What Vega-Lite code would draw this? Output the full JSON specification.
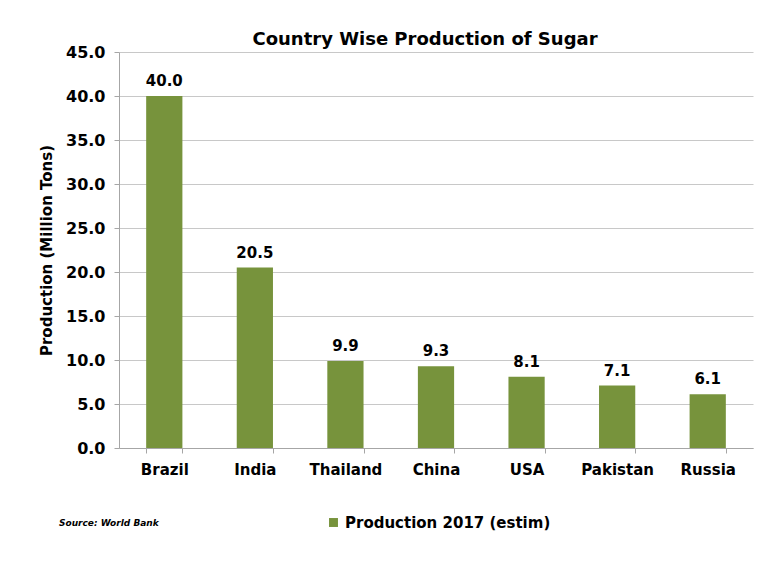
{
  "$schema": "https://vega.github.io/schema/vega-lite/v6.json",
  "autosize": "none",
  "width": 634,
  "height": 396,
  "padding": {"left": 119, "top": 52, "right": 23, "bottom": 116},
  "background": "white",
  "title": {
    "text": "Country Wise Production of Sugar",
    "font": "DejaVu Sans",
    "fontSize": 18,
    "fontWeight": "bold",
    "color": "#000000",
    "anchor": "middle",
    "dx": -11,
    "offset": -5
  },
  "data": {
    "values": [
      {"country": "Brazil", "production": 40.0, "series": "Production 2017 (estim)"},
      {"country": "India", "production": 20.5, "series": "Production 2017 (estim)"},
      {"country": "Thailand", "production": 9.9, "series": "Production 2017 (estim)"},
      {"country": "China", "production": 9.3, "series": "Production 2017 (estim)"},
      {"country": "USA", "production": 8.1, "series": "Production 2017 (estim)"},
      {"country": "Pakistan", "production": 7.1, "series": "Production 2017 (estim)"},
      {"country": "Russia", "production": 6.1, "series": "Production 2017 (estim)"}
    ]
  },
  "encoding": {
    "x": {
      "field": "country",
      "type": "nominal",
      "sort": null,
      "scale": {"paddingInner": 0.6, "paddingOuter": 0.3},
      "axis": {
        "title": null,
        "labelAngle": 0,
        "labelFont": "DejaVu Sans",
        "labelFontSize": 15,
        "labelFontWeight": "bold",
        "labelColor": "#000000",
        "labelPadding": 9,
        "tickBand": "extent",
        "tickSize": 5,
        "tickColor": "#a6a6a6",
        "domainColor": "#a6a6a6",
        "grid": false
      }
    },
    "y": {
      "field": "production",
      "type": "quantitative",
      "scale": {"domain": [0, 45]},
      "axis": {
        "title": "Production (Million Tons)",
        "titleFont": "DejaVu Sans",
        "titleFontSize": 15,
        "titleFontWeight": "bold",
        "titleColor": "#000000",
        "titlePadding": 11,
        "values": [0, 5, 10, 15, 20, 25, 30, 35, 40, 45],
        "format": ".1f",
        "labelFont": "DejaVu Sans",
        "labelFontSize": 16,
        "labelFontWeight": "bold",
        "labelColor": "#000000",
        "labelPadding": 9,
        "tickSize": 5,
        "tickColor": "#a6a6a6",
        "domainColor": "#a6a6a6",
        "gridColor": "#c8c8c8",
        "gridWidth": 1
      }
    }
  },
  "layer": [
    {
      "mark": {"type": "bar"},
      "encoding": {
        "color": {
          "field": "series",
          "type": "nominal",
          "scale": {"range": ["#77933c"]},
          "legend": {
            "title": "Source: World Bank",
            "titleOrient": "left",
            "titleFont": "DejaVu Sans",
            "titleFontSize": 9,
            "titleFontWeight": "bold",
            "titleFontStyle": "italic",
            "titleColor": "#000000",
            "titlePadding": 167,
            "orient": "none",
            "legendX": -60,
            "legendY": 463,
            "symbolType": "square",
            "symbolSize": 80,
            "labelFont": "DejaVu Sans",
            "labelFontSize": 15,
            "labelFontWeight": "bold",
            "labelColor": "#000000",
            "labelOffset": 4,
            "labelLimit": 400
          }
        }
      }
    },
    {
      "mark": {
        "type": "text",
        "baseline": "bottom",
        "dy": -7,
        "font": "DejaVu Sans",
        "fontSize": 15,
        "fontWeight": "bold",
        "color": "#000000"
      },
      "encoding": {
        "text": {"field": "production", "type": "quantitative", "format": ".1f"}
      }
    }
  ],
  "config": {
    "view": {"stroke": null}
  }
}
